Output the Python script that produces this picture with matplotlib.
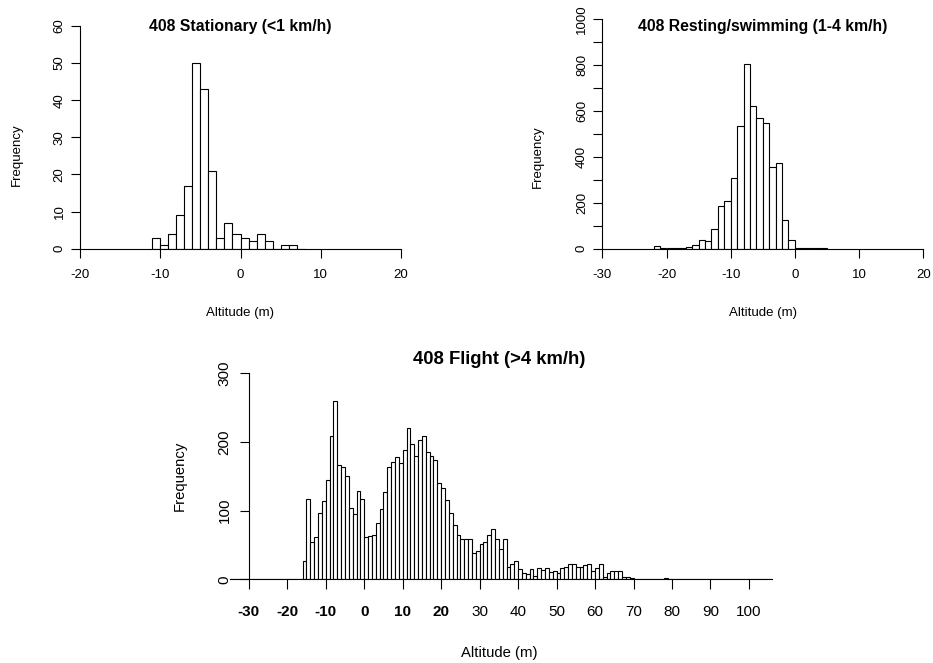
import matplotlib.pyplot as plt
import numpy as np

plt.rcParams["font.family"] = ["Liberation Sans", "DejaVu Sans"]
plt.rcParams["axes.unicode_minus"] = False

W, H = 933, 663

# Stationary (<1 km/h): 1 m bins starting at -11
stat_start = -11
stat_counts = [3, 1, 4, 9, 17, 50, 43, 21, 3, 7, 4, 3, 2, 4, 2, 0, 1, 1, 0]

# Resting/swimming (1-4 km/h): 1 m bins starting at -22
rest_start = -22
rest_counts = [10, 3, 1, 1, 4, 7, 15, 36, 33, 84, 184, 206, 308, 535, 804,
               623, 570, 549, 354, 374, 123, 36, 2, 1, 3, 1, 1]

# Flight (>4 km/h): 1 m bins starting at -35
flight_start = -35
flight_counts = (
    [0] * 8 + [0, 1, 0, 0, 0, 1, 0, 1, 0, 1, 0]            # -35 .. -17
    + [26, 117, 55, 61, 96, 114, 145, 209, 259, 166,       # -16 .. -7
       163, 150, 104, 95, 128, 117]                         # -6 .. -1
    + [61, 63, 65, 82, 102, 127, 163, 171, 178, 170,       # 0 .. 9
       188, 221, 197, 179, 203, 209, 185, 180, 174, 140]    # 10 .. 19
    + [133, 115, 96, 79, 65, 59, 58, 58, 38, 41,           # 20 .. 29
       52, 55, 65, 73, 59, 44, 58, 18, 22, 26]              # 30 .. 39
    + [15, 9, 7, 15, 5, 16, 14, 16, 11, 12,                # 40 .. 49
       9, 16, 18, 23, 22, 18, 18, 21, 23, 12]               # 50 .. 59
    + [16, 22, 4, 9, 12, 12, 12, 4, 4, 2,                  # 60 .. 69
       0, 0, 0, 0, 0, 0, 0, 0, 2, 0,                        # 70 .. 79
       0, 0, 0, 1, 1, 0, 0, 0, 0, 1,                        # 80 .. 89
       0, 0, 0, 0, 0, 0, 0, 0, 0, 0,                        # 90 .. 99
       0, 0, 0, 0, 0, 0]                                    # 100 .. 105
)

titles = ["408 Stationary (<1 km/h)", "408 Resting/swimming (1-4 km/h)",
          "408 Flight (>4 km/h)"]


def px(x, y):
    return x / W, 1 - y / H


def axes_px(fig, x0, x1, y_top, y_bot):
    return fig.add_axes([x0 / W, 1 - y_bot / H, (x1 - x0) / W, (y_bot - y_top) / H])


def draw_hist(ax, start, counts):
    counts = np.asarray(counts)
    lefts = start + np.arange(len(counts))
    ax.bar(lefts, counts, width=1, align="edge", color="white",
           edgecolor="black", linewidth=0.8)


def r_style(ax, xb, yb, lw=0.8):
    for s in ["top", "right"]:
        ax.spines[s].set_visible(False)
    ax.spines["left"].set_bounds(*yb)
    ax.spines["bottom"].set_bounds(*xb)
    ax.spines["left"].set_linewidth(lw)
    ax.spines["bottom"].set_linewidth(lw)


fig = plt.figure(figsize=(W / 100, H / 100), dpi=100)

# --- top left ---
ax1 = axes_px(fig, 80, 401, 26, 248.7)
draw_hist(ax1, stat_start, stat_counts)
ax1.set_xlim(-20, 20)
ax1.set_ylim(0, 60)
ax1.set_xticks(np.arange(-20, 21, 10))
ax1.set_yticks(np.arange(0, 61, 10))
r_style(ax1, (-20, 20), (0, 60))

# --- top right ---
ax2 = axes_px(fig, 602.3, 923.3, 19.3, 248.7)
draw_hist(ax2, rest_start, rest_counts)
ax2.set_xlim(-30, 20)
ax2.set_ylim(0, 1000)
ax2.set_xticks(np.arange(-30, 21, 10))
ax2.set_yticks(np.arange(0, 1001, 100))
ax2.set_yticklabels([str(v) if v % 200 == 0 else "" for v in range(0, 1001, 100)])
r_style(ax2, (-30, 20), (0, 1000))

for ax in (ax1, ax2):
    ax.tick_params(axis="x", length=6.3, width=0.8, pad=8, labelsize=9.5)
    ax.tick_params(axis="y", length=6.3, width=0.8, pad=4, labelsize=9.5)
    for lbl in ax.get_yticklabels():
        lbl.set_rotation(90)
        lbl.set_va("center")
        lbl.set_ha("right")

# --- bottom ---
ax3 = axes_px(fig, 218, 772, 373.3, 579.3)
draw_hist(ax3, flight_start, flight_counts)
ax3.set_xlim(-38, 106)
ax3.set_ylim(0, 300)
ax3.spines["left"].set_position(("data", -30))
r_style(ax3, (-35, 106), (0, 300))
ax3.set_xticks(np.arange(-30, 101, 10))
ax3.set_yticks(np.arange(0, 301, 100))
ax3.tick_params(axis="x", length=7.2, width=0.8, pad=11, labelsize=11)
ax3.tick_params(axis="y", length=6.5, width=0.8, pad=6, labelsize=11)
for lbl in ax3.get_yticklabels():
    lbl.set_rotation(90)
    lbl.set_va("center")
    lbl.set_ha("right")
for lbl in ax3.get_xticklabels()[:6]:
    lbl.set_fontweight("bold")

# titles and axis labels
fig.text(*px(240.5, 26), titles[0], ha="center", va="center",
         fontsize=11.3, fontweight="bold")
fig.text(*px(763, 26.7), titles[1], ha="center", va="center",
         fontsize=11.3, fontweight="bold")
fig.text(*px(499, 359), titles[2], ha="center", va="center",
         fontsize=13.3, fontweight="bold")

fig.text(*px(240.5, 313), "Altitude (m)", ha="center", va="center", fontsize=9.5)
fig.text(*px(763, 313), "Altitude (m)", ha="center", va="center", fontsize=9.5)
fig.text(*px(499, 653), "Altitude (m)", ha="center", va="center", fontsize=10.7)

fig.text(*px(17, 155), "Frequency", ha="center", va="center",
         rotation=90, fontsize=9.5)
fig.text(*px(537.7, 157), "Frequency", ha="center", va="center",
         rotation=90, fontsize=9.5)
fig.text(*px(180, 476), "Frequency", ha="center", va="center",
         rotation=90, fontsize=10.7)

fig.savefig("out.png", dpi=100)
